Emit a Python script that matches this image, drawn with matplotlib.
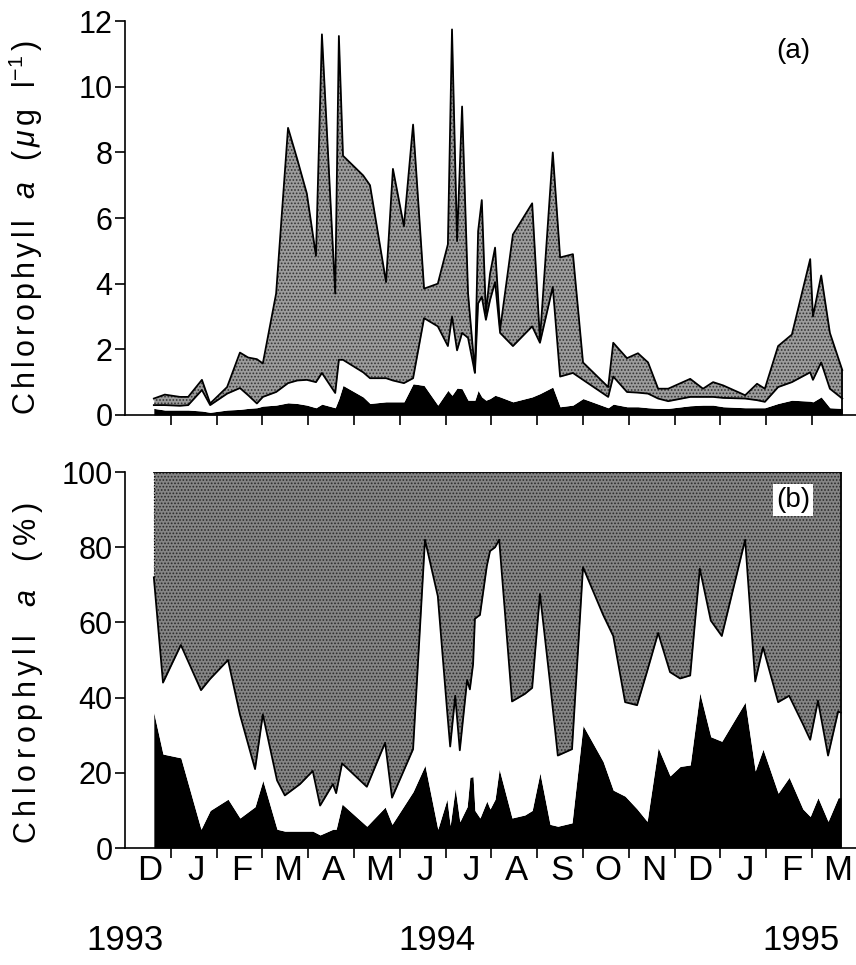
import numpy as np
import matplotlib
matplotlib.use("Agg")
import matplotlib.pyplot as plt

plt.rcParams['font.family'] = ['Liberation Sans', 'DejaVu Sans']
plt.rcParams['mathtext.fontset'] = 'custom'
plt.rcParams['mathtext.rm'] = 'Liberation Sans'
plt.rcParams['mathtext.it'] = 'Liberation Sans:italic'
plt.rcParams['hatch.linewidth'] = 0.8

# sampling dates, in months since 1 Dec 1993
dates_a = [0.63, 0.87, 1.20, 1.38, 1.68, 1.86, 2.23, 2.51, 2.69, 2.88, 3.01, 3.30,
           3.56, 3.76, 3.97, 4.17, 4.30, 4.59, 4.67, 4.76, 5.20, 5.35, 5.70, 5.85,
           6.09, 6.29, 6.53, 6.83, 7.05, 7.14, 7.25, 7.36, 7.49, 7.64, 7.71, 7.79,
           7.88, 7.97, 8.08, 8.19, 8.47, 8.89, 9.06, 9.34, 9.50, 9.78, 10.00, 10.55,
           10.66, 10.96, 11.20, 11.42, 11.64, 11.86, 12.34, 12.62, 12.84, 13.06,
           13.54, 13.80, 13.97, 14.26, 14.56, 14.96, 15.02, 15.20, 15.39, 15.66]
# total chlorophyll a (ug/l)
total_a = [0.5, 0.62, 0.55, 0.55, 1.07, 0.35, 0.85, 1.9, 1.75, 1.7, 1.57, 3.7,
           8.75, 7.8, 6.75, 4.85, 11.6, 3.7, 11.55, 7.9, 7.3, 7.0, 4.05, 7.5,
           5.75, 8.85, 3.85, 4.0, 5.2, 11.75, 5.3, 9.4, 3.7, 1.3, 5.6, 6.55,
           3.1, 4.3, 5.1, 2.6, 5.5, 6.45, 2.3, 8.0, 4.8, 4.9, 1.6, 0.85,
           2.2, 1.73, 1.88, 1.6, 0.8, 0.8, 1.1, 0.8, 1.0, 0.9,
           0.6, 0.95, 0.8, 2.1, 2.45, 4.75, 3.0, 4.25, 2.5, 1.37]
# small + smallest fractions (cumulative)
mid_a = [0.3, 0.3, 0.28, 0.3, 0.76, 0.3, 0.65, 0.82, 0.6, 0.35, 0.55, 0.7,
         0.97, 1.05, 1.07, 1.0, 1.28, 0.67, 1.68, 1.68, 1.3, 1.12, 1.12, 1.05,
         0.97, 1.12, 2.95, 2.7, 2.1, 3.0, 1.97, 2.5, 2.35, 1.28, 3.4, 3.6,
         2.9, 3.5, 4.05, 2.5, 2.1, 2.7, 2.2, 3.9, 1.17, 1.28, 1.07, 0.55,
         1.17, 0.7, 0.68, 0.65, 0.5, 0.42, 0.55, 0.55, 0.55, 0.52,
         0.5, 0.45, 0.4, 0.85, 1.0, 1.3, 1.07, 1.6, 0.8, 0.5]
# smallest fraction
low_a = [0.2, 0.15, 0.15, 0.15, 0.12, 0.08, 0.15, 0.17, 0.2, 0.22, 0.27, 0.3,
         0.37, 0.35, 0.3, 0.22, 0.33, 0.22, 0.5, 0.9, 0.55, 0.35, 0.4, 0.4,
         0.4, 0.95, 0.9, 0.3, 0.75, 0.6, 0.82, 0.8, 0.45, 0.45, 0.75, 0.55,
         0.45, 0.5, 0.6, 0.55, 0.4, 0.55, 0.65, 0.85, 0.25, 0.3, 0.5, 0.22,
         0.33, 0.25, 0.25, 0.22, 0.2, 0.2, 0.28, 0.3, 0.3, 0.25,
         0.22, 0.22, 0.22, 0.35, 0.45, 0.42, 0.4, 0.55, 0.22, 0.2]

dates_b = [0.63, 0.83, 1.22, 1.66, 1.86, 2.25, 2.51, 2.84, 3.01, 3.32, 3.49, 3.82,
           4.10, 4.26, 4.54, 4.61, 4.74, 5.28, 5.68, 5.83, 6.29, 6.55, 6.83, 7.03,
           7.10, 7.21, 7.31, 7.47, 7.53, 7.60, 7.64, 7.75, 7.90, 7.97, 8.08, 8.17,
           8.45, 8.73, 8.89, 9.06, 9.28, 9.45, 9.76, 10.00, 10.44, 10.66, 10.92,
           11.18, 11.40, 11.64, 11.90, 12.12, 12.34, 12.55, 12.79, 13.03, 13.54,
           13.76, 13.93, 14.26, 14.50, 14.80, 14.96, 15.13, 15.35, 15.57, 15.63]
# percentage, cumulative small + smallest
mid_b = [72, 44, 54, 42, 45, 50, 35.5, 21, 35.5, 18, 14, 17,
         20.5, 11.3, 17, 14.6, 22.5, 16.3, 28, 13.4, 26.3, 82, 67, 37,
         27, 40.5, 26, 44.7, 42.2, 48.9, 61, 62, 75, 79, 80, 82,
         39, 41, 42.6, 67.6, 44, 24.6, 26.3, 74.7, 62, 56.4, 38.8,
         38, 47, 57.2, 46.8, 45.1, 45.9, 74.3, 60.5, 56.4, 82,
         44.3, 53.4, 38.8, 40.5, 33, 28.8, 39.2, 24.6, 36.3, 36]
# percentage, smallest
low_b = [36, 25, 24, 5, 10, 13, 8, 11, 18, 5, 4.5, 4.5,
         4.5, 3.5, 5, 5, 11.7, 5.8, 10.9, 6.3, 15, 22, 5, 13,
         6, 15.9, 7, 11, 18.8, 19, 10, 8, 12.5, 10.4, 13, 21,
         8, 8.8, 10, 20, 6.3, 5.8, 6.7, 32.6, 23, 15.4, 13.8,
         10.4, 7.1, 26.7, 19.2, 21.7, 22.1, 41.3, 29.6, 28.4, 38.8,
         20.5, 26.3, 14.6, 18.8, 10.4, 8.4, 13.4, 7.1, 13.4, 13.4]

month_labels = ['D', 'J', 'F', 'M', 'A', 'M', 'J', 'J', 'A', 'S', 'O', 'N', 'D', 'J', 'F', 'M']
year_labels = ['1993', '1994', '1995']
year_pos = [0.0, 6.8, 14.76]

xmax = 15.96

fig = plt.figure(figsize=(8.56, 9.65), dpi=100)
ax1 = fig.add_axes([0.146, 0.570, 0.854, 0.408])
ax2 = fig.add_axes([0.146, 0.1212, 0.854, 0.3896])


def stack(ax, x, low, mid, top, gray, dots):
    x = np.asarray(x)
    ax.fill_between(x, 0, low, color='black', lw=0, zorder=2)
    ax.fill_between(x, low, mid, color='white', lw=0, zorder=2)
    ax.fill_between(x, mid, top, color=gray, lw=0, zorder=2)
    ax.fill_between(x, mid, top, facecolor='none', edgecolor=dots,
                    hatch='.....', lw=0, zorder=2)
    ax.plot(x, mid, color='black', lw=1.3, zorder=3)
    ax.plot(x, top, color='black', lw=1.3, zorder=3)
    ax.plot([x[-1], x[-1]], [0, top[-1]], color='black', lw=1.3, zorder=3)


stack(ax1, dates_a, low_a, mid_a, np.asarray(total_a), '#9c9c9c', '#333333')
stack(ax2, dates_b, low_b, mid_b, np.full(len(dates_b), 100.0), '#858585', '#2a2a2a')
ax2.plot([dates_b[0], dates_b[0]], [mid_b[0], 100], color='black', lw=0.8, ls=':', zorder=3)

for ax in (ax1, ax2):
    ax.set_xlim(0, xmax)
    for s in ('top', 'right'):
        ax.spines[s].set_visible(False)
    ax.spines['left'].set_linewidth(1.2)
    ax.spines['bottom'].set_linewidth(1.2)
    ax.set_xticks(range(1, 16))
    ax.tick_params(axis='both', direction='out', length=7, width=1.2,
                   labelsize=22, pad=2)
    ax.set_xticks([m + 0.55 for m in range(16)], minor=True)
    ax.tick_params(axis='x', which='minor', length=0)

ax1.set_ylim(0, 12)
ax1.set_yticks(range(0, 13, 2))
ax1.set_xticklabels([])
ax1.set_ylabel(r'$\mathrm{C\,h\,l\,o\,r\,o\,p\,h\,y\,l\,l}\;\;\;a\;\;\;(\,\mu\,\mathrm{g}\;\;\;\mathrm{l}^{-1}\,)$',
               fontsize=22)
ax1.yaxis.set_label_coords(-0.109, 0.475)
ax1.text(0.914, 0.925, '(a)', transform=ax1.transAxes, fontsize=20, ha='center', va='center')

ax2.set_ylim(0, 100)
ax2.set_yticks(range(0, 101, 20))
ax2.set_xticklabels([])
ax2.set_xticklabels(month_labels, minor=True, fontsize=25)
ax2.tick_params(axis='x', which='minor', pad=4)
ax2.set_ylabel(r'$\mathrm{C\:h\:l\:o\:r\:o\:p\:h\:y\:l\:l}\;\;\;\;a\;\;\;\;(\:\mathrm{\%}\:)$',
               fontsize=22)
ax2.yaxis.set_label_coords(-0.109, 0.465)
ax2.text(0.914, 0.925, '(b)', transform=ax2.transAxes, fontsize=20, ha='center', va='center',
         bbox=dict(facecolor='white', edgecolor='none', pad=2), zorder=5)

for lab, xp in zip(year_labels, year_pos):
    ax2.text(xp, -0.245, lab, transform=ax2.get_xaxis_transform(), fontsize=25,
             ha='center', va='center')

fig.savefig('out.png', dpi=100)
